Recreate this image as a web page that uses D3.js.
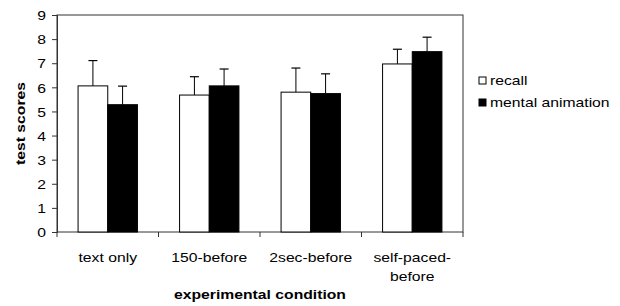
<!DOCTYPE html>
<html>
<head>
<meta charset="utf-8">
<script src="https://cdn.jsdelivr.net/npm/d3@7"></script>
<style>
  body { margin: 0; background: #fff; }
  svg { font-family: "Liberation Sans", Arial, sans-serif; }
</style>
</head>
<body>
<div id="chart"></div>
<script>
// Data
const conditions = ['text only', '150-before', '2sec-before', 'self-paced-before'];
const conditionLines = [['text only'], ['150-before'], ['2sec-before'], ['self-paced-', 'before']];
const seriesNames = ['recall', 'mental animation'];
const seriesFill = ['#ffffff', '#000000'];
const recallMeans = [6.06, 5.68, 5.80, 6.97];
const recallErr = [1.05, 0.76, 1.0, 0.61];
const animMeans = [5.28, 6.06, 5.74, 7.48];
const animErr = [0.77, 0.70, 0.82, 0.60];
const yTicks = [0, 1, 2, 3, 4, 5, 6, 7, 8, 9];

const W = 620, H = 306;
const margin = { top: 15, right: 157, bottom: 74, left: 57 };
const FS = 13;
const STRETCH = 1.21; // the source font is drawn wider than Arial

const svg = d3.select('#chart').append('svg')
  .attr('width', W).attr('height', H);

const x0 = d3.scaleBand()
  .domain(conditions)
  .range([margin.left, W - margin.right])
  .paddingInner(0).paddingOuter(0);

const x1 = d3.scaleBand()
  .domain(seriesNames)
  .range([0, x0.bandwidth()])
  .paddingInner(0).paddingOuter(0.71);

const y = d3.scaleLinear()
  .domain([0, 9])
  .range([H - margin.bottom, margin.top]);

const rows = conditions.map((c, i) => ({
  cond: c,
  vals: [
    { s: seriesNames[0], v: recallMeans[i], e: recallErr[i], fill: seriesFill[0] },
    { s: seriesNames[1], v: animMeans[i], e: animErr[i], fill: seriesFill[1] },
  ],
}));

// Plot frame
svg.append('rect')
  .attr('x', margin.left).attr('y', margin.top)
  .attr('width', W - margin.right - margin.left)
  .attr('height', y(0) - margin.top)
  .attr('fill', 'none').attr('stroke', '#333').attr('stroke-width', 1);

// Bars + error bars
const groups = svg.append('g').selectAll('g')
  .data(rows)
  .join('g')
  .attr('transform', d => `translate(${x0(d.cond)},0)`);

groups.selectAll('line.err')
  .data(d => d.vals)
  .join('line')
  .attr('class', 'err')
  .attr('x1', d => x1(d.s) + x1.bandwidth() / 2)
  .attr('x2', d => x1(d.s) + x1.bandwidth() / 2)
  .attr('y1', d => y(d.v))
  .attr('y2', d => y(d.v + d.e))
  .attr('stroke', '#000').attr('stroke-width', 1);

groups.selectAll('line.cap')
  .data(d => d.vals)
  .join('line')
  .attr('class', 'cap')
  .attr('x1', d => x1(d.s) + x1.bandwidth() / 2 - 4.5)
  .attr('x2', d => x1(d.s) + x1.bandwidth() / 2 + 4.5)
  .attr('y1', d => y(d.v + d.e))
  .attr('y2', d => y(d.v + d.e))
  .attr('stroke', '#000').attr('stroke-width', 1.2);

groups.selectAll('rect')
  .data(d => d.vals)
  .join('rect')
  .attr('x', d => x1(d.s))
  .attr('y', d => y(d.v))
  .attr('width', x1.bandwidth())
  .attr('height', d => y(0) - y(d.v))
  .attr('fill', d => d.fill)
  .attr('stroke', '#000').attr('stroke-width', 1);

// Y axis
const yAxis = svg.append('g')
  .attr('transform', `translate(${margin.left},0)`)
  .call(d3.axisLeft(y).tickValues(yTicks).tickSize(5).tickPadding(5));
yAxis.select('.domain').attr('stroke', '#333');
yAxis.selectAll('.tick line').attr('stroke', '#333');
yAxis.selectAll('text')
  .attr('font-size', FS).attr('font-family', null).attr('fill', '#000')
  .attr('x', 0).attr('dy', '0.36em')
  .attr('transform', `translate(-11,0) scale(${STRETCH},1)`);

// X axis: ticks at band boundaries
const xAxisG = svg.append('g')
  .attr('transform', `translate(0,${y(0)})`);
const bounds = conditions.map(c => x0(c)).concat([W - margin.right]);
xAxisG.selectAll('line')
  .data(bounds)
  .join('line')
  .attr('x1', d => d).attr('x2', d => d)
  .attr('y1', 0).attr('y2', 5)
  .attr('stroke', '#333');

xAxisG.selectAll('text')
  .data(conditions)
  .join('text')
  .attr('transform', d => `translate(${x0(d) + x0.bandwidth() / 2},30) scale(${STRETCH},1)`)
  .attr('text-anchor', 'middle')
  .attr('font-size', FS)
  .selectAll('tspan')
  .data((d, i) => conditionLines[i].map((t, j) => ({ t, j })))
  .join('tspan')
  .attr('x', 0)
  .attr('dy', d => d.j === 0 ? 0 : 19.5)
  .text(d => d.t);

// Axis titles
svg.append('text')
  .attr('transform', `translate(${(margin.left + W - margin.right) / 2},299) scale(${STRETCH},1)`)
  .attr('text-anchor', 'middle')
  .attr('font-size', FS)
  .attr('font-weight', 'bold')
  .text('experimental condition');

svg.append('text')
  .attr('transform', `translate(25,${(margin.top + y(0)) / 2}) rotate(-90) scale(${STRETCH},1)`)
  .attr('text-anchor', 'middle')
  .attr('font-size', FS)
  .attr('font-weight', 'bold')
  .text('test scores');

// Legend
const legend = svg.append('g').attr('transform', 'translate(479,77)');
const li = legend.selectAll('g')
  .data(seriesNames)
  .join('g')
  .attr('transform', (d, i) => `translate(0,${i * 22})`);
li.append('rect')
  .attr('width', 7).attr('height', 7)
  .attr('fill', (d, i) => seriesFill[i])
  .attr('stroke', '#000').attr('stroke-width', 1);
li.append('text')
  .attr('transform', `translate(11,8) scale(${STRETCH},1)`)
  .attr('font-size', FS)
  .text(d => d);
</script>
</body>
</html>
